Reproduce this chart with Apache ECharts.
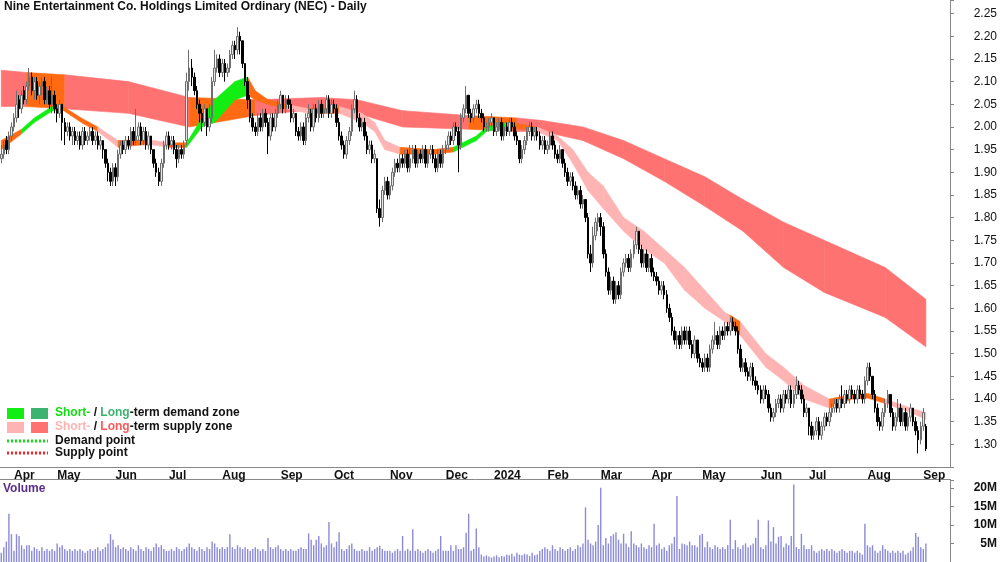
<!DOCTYPE html>
<html><head><meta charset="utf-8">
<script src="https://cdn.jsdelivr.net/npm/echarts@6/dist/echarts.min.js"></script>
<style>html,body{margin:0;padding:0;background:#fff}#c{width:1000px;height:562px}</style>
</head><body><div id="c"></div>
<script>
// daily candles [open, close, low, high]
const ohlc = [
[1.93,1.94,1.92,1.96],[1.94,1.96,1.93,1.97],[1.97,1.95,1.94,1.98],[1.95,1.98,1.94,1.99],[1.98,2.00,1.97,2.01],
[2.00,2.02,1.99,2.03],[2.02,2.05,2.01,2.08],[2.06,2.04,2.02,2.07],[2.04,2.07,2.03,2.08],[2.08,2.06,2.05,2.09],
[2.06,2.09,2.05,2.10],[2.09,2.11,2.08,2.13],[2.11,2.08,2.07,2.12],[2.08,2.10,2.06,2.11],[2.10,2.07,2.06,2.11],
[2.07,2.09,2.05,2.10],[2.09,2.10,2.07,2.11],[2.10,2.06,2.05,2.11],[2.06,2.08,2.05,2.09],[2.08,2.05,2.04,2.09],
[2.05,2.07,2.03,2.11],[2.07,2.04,2.03,2.08],[2.04,2.03,2.01,2.05],[2.03,2.05,2.02,2.06],[2.05,2.01,1.97,2.05],
[2.01,1.99,1.96,2.02],[1.99,2.00,1.98,2.01],[2.00,1.98,1.97,2.01],[1.98,1.99,1.96,2.00],[1.99,1.97,1.96,2.00],
[1.97,1.98,1.96,1.99],[1.98,1.96,1.95,1.99],[1.96,1.99,1.95,2.00],[1.99,1.97,1.96,2.00],[1.97,1.98,1.96,1.99],
[1.98,1.99,1.97,2.00],[1.99,1.97,1.96,2.00],[1.97,1.98,1.96,1.99],[1.98,1.96,1.95,1.99],[1.96,1.97,1.95,1.98],
[1.97,1.95,1.93,1.97],[1.95,1.92,1.91,1.95],[1.92,1.90,1.88,1.93],[1.90,1.88,1.87,1.91],[1.88,1.91,1.87,1.92],
[1.91,1.89,1.87,1.92],[1.89,1.94,1.88,1.95],[1.94,1.96,1.93,1.97],[1.96,1.95,1.94,1.97],[1.95,1.97,1.94,1.98],
[1.97,1.96,1.95,1.98],[1.96,1.99,1.95,2.00],[1.99,1.97,1.96,2.00],[1.97,1.98,1.96,2.04],[1.98,2.00,1.97,2.01],
[2.00,1.97,1.96,2.01],[1.97,1.99,1.96,2.00],[1.99,1.96,1.95,2.00],[1.96,1.98,1.95,1.99],[1.98,1.95,1.94,1.98],
[1.95,1.92,1.91,1.95],[1.92,1.90,1.89,1.93],[1.90,1.88,1.87,1.91],[1.88,1.92,1.87,1.93],[1.92,1.96,1.91,1.97],
[1.96,1.98,1.95,1.99],[1.98,1.96,1.95,1.99],[1.96,1.97,1.95,1.98],[1.97,1.95,1.94,1.98],[1.95,1.93,1.91,1.96],
[1.93,1.95,1.92,1.96],[1.95,1.94,1.93,1.96],[1.94,1.96,1.93,1.97],[1.97,2.10,1.96,2.12],[2.10,2.13,2.08,2.17],
[2.13,2.11,2.09,2.15],[2.11,2.08,2.07,2.12],[2.08,2.05,2.04,2.09],[2.05,2.03,2.01,2.06],[2.03,2.01,1.99,2.04],
[2.01,2.04,2.00,2.05],[2.04,2.00,1.98,2.04],[2.00,2.02,1.99,2.05],[2.02,2.10,2.01,2.11],[2.10,2.13,2.09,2.17],
[2.13,2.15,2.12,2.16],[2.15,2.12,2.11,2.16],[2.12,2.14,2.11,2.15],[2.14,2.12,2.10,2.15],[2.12,2.13,2.11,2.14],
[2.13,2.16,2.12,2.17],[2.16,2.18,2.15,2.19],[2.18,2.17,2.15,2.19],[2.17,2.20,2.16,2.22],[2.20,2.19,2.16,2.21],
[2.19,2.14,2.13,2.19],[2.14,2.10,2.09,2.14],[2.10,2.06,2.04,2.11],[2.06,2.02,2.01,2.07],[2.02,2.00,1.99,2.03],
[2.00,1.99,1.98,2.01],[1.99,2.02,1.98,2.03],[2.02,2.00,1.99,2.03],[2.00,2.03,1.99,2.04],[2.03,2.01,2.00,2.04],
[2.01,1.98,1.94,2.02],[1.98,2.02,1.97,2.03],[2.02,2.00,1.99,2.03],[2.00,2.03,1.99,2.04],[2.03,2.05,2.02,2.06],
[2.05,2.07,2.04,2.08],[2.07,2.04,2.03,2.07],[2.04,2.06,2.03,2.07],[2.06,2.05,2.04,2.07],[2.05,2.02,2.01,2.06],
[2.02,2.03,2.01,2.04],[2.03,1.99,1.98,2.03],[1.99,1.98,1.97,2.00],[1.98,2.00,1.97,2.01],[2.00,1.97,1.96,2.01],
[1.97,2.02,1.96,2.03],[2.02,2.03,2.01,2.05],[2.03,2.00,1.99,2.04],[2.00,2.04,1.99,2.05],[2.04,2.02,2.01,2.05],
[2.02,2.05,2.01,2.06],[2.05,2.03,2.02,2.06],[2.03,2.04,2.02,2.05],[2.04,2.06,2.03,2.07],[2.06,2.03,2.02,2.07],
[2.03,2.05,2.02,2.06],[2.05,2.04,2.03,2.06],[2.04,2.01,2.00,2.05],[2.01,1.98,1.97,2.02],[1.98,1.96,1.95,1.99],
[1.96,1.94,1.93,1.97],[1.94,1.97,1.93,1.98],[1.97,1.99,1.96,2.00],[1.99,2.04,1.98,2.05],[2.04,2.06,2.03,2.08],
[2.06,2.02,2.01,2.07],[2.02,2.00,1.99,2.03],[2.00,2.01,1.99,2.02],[2.01,1.98,1.97,2.02],[1.98,1.95,1.94,1.99],
[1.95,1.96,1.94,1.97],[1.96,1.93,1.92,1.97],[1.93,1.94,1.92,1.95],[1.93,1.82,1.81,1.93],[1.82,1.80,1.78,1.84],
[1.80,1.86,1.79,1.87],[1.86,1.88,1.85,1.89],[1.88,1.85,1.84,1.89],[1.85,1.87,1.84,1.88],[1.87,1.90,1.86,1.91],
[1.90,1.92,1.89,1.93],[1.92,1.91,1.90,1.93],[1.91,1.93,1.90,1.94],[1.93,1.92,1.91,1.94],[1.92,1.94,1.91,1.95],
[1.94,1.91,1.90,1.95],[1.91,1.93,1.90,1.96],[1.93,1.95,1.92,1.96],[1.95,1.92,1.91,1.96],[1.92,1.94,1.91,1.95],
[1.94,1.93,1.92,1.95],[1.93,1.95,1.92,1.96],[1.95,1.92,1.91,1.96],[1.92,1.94,1.91,1.95],[1.94,1.95,1.93,1.96],
[1.95,1.93,1.92,1.96],[1.93,1.91,1.90,1.94],[1.91,1.94,1.90,1.95],[1.94,1.92,1.91,1.95],[1.92,1.95,1.91,1.96],
[1.95,1.96,1.94,1.97],[1.96,1.98,1.95,1.99],[1.98,1.97,1.96,1.99],[1.97,2.00,1.96,2.01],[2.00,1.99,1.98,2.01],
[1.99,1.96,1.90,2.00],[1.96,2.02,1.95,2.03],[2.02,2.04,2.01,2.05],[2.04,2.07,2.03,2.09],[2.07,2.03,2.02,2.07],
[2.03,2.02,2.01,2.04],[2.02,2.04,2.01,2.05],[2.04,2.05,2.03,2.06],[2.05,2.03,2.02,2.06],[2.03,2.02,2.01,2.04],
[2.02,2.00,1.99,2.03],[2.00,2.00,1.99,2.01],[2.00,2.01,1.99,2.02],[2.01,2.02,2.00,2.03],[2.02,1.99,1.98,2.02],
[1.99,2.00,1.98,2.01],[2.00,2.01,1.99,2.02],[2.01,1.98,1.97,2.02],[1.98,2.00,1.97,2.01],[2.00,1.99,1.98,2.01],
[1.99,2.01,1.98,2.02],[2.01,2.00,1.99,2.02],[2.00,1.98,1.97,2.01],[1.98,1.97,1.96,1.99],[1.97,1.93,1.92,1.97],
[1.93,1.95,1.92,1.96],[1.95,1.97,1.94,1.98],[1.97,1.99,1.96,2.00],[1.99,2.00,1.98,2.01],[2.00,1.98,1.97,2.01],
[1.98,1.99,1.97,2.00],[1.99,1.98,1.97,2.00],[1.98,1.96,1.95,1.99],[1.96,1.97,1.95,1.98],[1.97,1.95,1.94,1.98],
[1.95,1.96,1.94,1.97],[1.96,1.98,1.95,1.99],[1.98,1.96,1.95,1.99],[1.96,1.94,1.93,1.97],[1.94,1.93,1.92,1.95],
[1.93,1.95,1.92,1.96],[1.95,1.92,1.91,1.95],[1.92,1.90,1.89,1.93],[1.90,1.88,1.87,1.91],[1.88,1.89,1.87,1.90],
[1.89,1.87,1.86,1.90],[1.87,1.85,1.84,1.88],[1.85,1.86,1.84,1.87],[1.86,1.83,1.82,1.87],[1.83,1.84,1.82,1.85],
[1.84,1.80,1.79,1.84],[1.80,1.72,1.71,1.81],[1.72,1.70,1.68,1.74],[1.70,1.76,1.69,1.78],[1.76,1.79,1.75,1.80],
[1.79,1.80,1.77,1.81],[1.80,1.78,1.76,1.81],[1.78,1.72,1.71,1.79],[1.72,1.68,1.67,1.73],[1.68,1.64,1.63,1.69],
[1.64,1.66,1.63,1.67],[1.66,1.62,1.61,1.67],[1.62,1.65,1.61,1.66],[1.65,1.63,1.62,1.66],[1.63,1.68,1.62,1.69],
[1.68,1.70,1.67,1.71],[1.70,1.71,1.69,1.72],[1.71,1.69,1.68,1.72],[1.69,1.72,1.68,1.73],[1.72,1.74,1.71,1.75],
[1.74,1.77,1.73,1.78],[1.77,1.73,1.72,1.77],[1.73,1.70,1.69,1.74],[1.70,1.72,1.69,1.73],[1.72,1.69,1.68,1.73],
[1.69,1.71,1.68,1.72],[1.71,1.68,1.67,1.72],[1.68,1.67,1.66,1.69],[1.67,1.66,1.65,1.68],[1.66,1.64,1.63,1.67],
[1.64,1.65,1.63,1.66],[1.65,1.63,1.62,1.66],[1.63,1.60,1.59,1.64],[1.60,1.58,1.57,1.61],[1.58,1.55,1.54,1.59],
[1.55,1.53,1.52,1.56],[1.53,1.54,1.51,1.55],[1.54,1.52,1.51,1.55],[1.52,1.55,1.51,1.56],[1.55,1.53,1.52,1.56],
[1.53,1.55,1.52,1.56],[1.55,1.52,1.51,1.56],[1.52,1.50,1.49,1.53],[1.50,1.53,1.49,1.54],[1.53,1.49,1.48,1.53],
[1.49,1.48,1.47,1.50],[1.48,1.47,1.46,1.49],[1.47,1.49,1.46,1.50],[1.49,1.47,1.46,1.50],[1.47,1.51,1.46,1.52],
[1.51,1.53,1.50,1.54],[1.53,1.54,1.52,1.57],[1.54,1.52,1.51,1.55],[1.52,1.55,1.51,1.56],[1.55,1.54,1.53,1.56],
[1.54,1.56,1.53,1.57],[1.56,1.55,1.54,1.57],[1.55,1.57,1.54,1.58],[1.57,1.56,1.55,1.58],[1.56,1.55,1.54,1.57],
[1.55,1.51,1.50,1.56],[1.51,1.47,1.46,1.52],[1.47,1.48,1.46,1.49],[1.48,1.46,1.45,1.49],[1.46,1.45,1.44,1.47],
[1.45,1.47,1.44,1.48],[1.47,1.44,1.43,1.48],[1.44,1.43,1.42,1.45],[1.43,1.42,1.41,1.44],[1.42,1.40,1.39,1.43],
[1.40,1.42,1.39,1.43],[1.42,1.41,1.40,1.43],[1.41,1.38,1.37,1.42],[1.38,1.36,1.35,1.39],[1.36,1.37,1.35,1.38],
[1.37,1.39,1.36,1.40],[1.39,1.40,1.38,1.41],[1.40,1.38,1.37,1.41],[1.38,1.41,1.37,1.42],[1.41,1.40,1.39,1.42],
[1.40,1.42,1.39,1.43],[1.42,1.39,1.38,1.43],[1.39,1.41,1.38,1.42],[1.41,1.43,1.40,1.45],[1.43,1.42,1.41,1.44],
[1.42,1.40,1.39,1.43],[1.40,1.37,1.36,1.41],[1.37,1.38,1.36,1.39],[1.38,1.34,1.32,1.38],[1.34,1.32,1.31,1.35],
[1.32,1.33,1.31,1.34],[1.33,1.35,1.32,1.36],[1.35,1.32,1.31,1.36],[1.32,1.34,1.31,1.35],[1.34,1.36,1.33,1.37],
[1.36,1.35,1.34,1.37],[1.35,1.37,1.34,1.38],[1.37,1.38,1.36,1.39],[1.38,1.39,1.37,1.40],[1.39,1.38,1.37,1.40],
[1.38,1.40,1.37,1.41],[1.40,1.39,1.38,1.43],[1.39,1.41,1.38,1.42],[1.41,1.40,1.39,1.42],[1.40,1.42,1.39,1.43],
[1.42,1.41,1.40,1.43],[1.41,1.40,1.39,1.42],[1.40,1.42,1.39,1.43],[1.42,1.41,1.40,1.43],[1.41,1.40,1.39,1.42],
[1.40,1.44,1.39,1.45],[1.44,1.47,1.43,1.48],[1.47,1.45,1.44,1.48],[1.45,1.41,1.40,1.45],[1.41,1.38,1.37,1.42],
[1.38,1.35,1.34,1.39],[1.35,1.34,1.33,1.36],[1.34,1.37,1.33,1.38],[1.37,1.39,1.36,1.40],[1.39,1.41,1.38,1.42],
[1.41,1.37,1.36,1.41],[1.37,1.34,1.33,1.38],[1.34,1.36,1.33,1.37],[1.36,1.38,1.35,1.40],[1.38,1.35,1.34,1.39],
[1.35,1.37,1.34,1.38],[1.37,1.34,1.33,1.38],[1.34,1.36,1.33,1.37],[1.36,1.38,1.35,1.39],[1.38,1.35,1.34,1.38],
[1.35,1.33,1.32,1.36],[1.33,1.31,1.28,1.34],[1.31,1.34,1.30,1.35],[1.34,1.37,1.33,1.38],[1.34,1.29,1.285,1.345]
];
// volume in millions
const volume = [
2.5,4,5.5,13,7.5,3,7.5,7,4.5,3.5,
4.5,4.5,3,4,3.5,3,4,3,3.5,3,3.5,3,
5,4,4.5,3.5,3,3.5,3,3.5,3,3.5,3,2.5,3,3.5,3,3.5,4,3,3.5,4,5,7.5,6,
4,4.5,3.5,4,3.5,3,4,3.5,3,4.5,3.5,3,4,3.5,3,4,5,4,4.5,3.5,3,
3,3.5,3,4,3.5,3,3.5,4,5,4,3.5,3,4,3.5,3,4,3.5,5.5,5,4,3.5,
4,3.5,4,7.5,4,3.5,4.5,4,3.5,4,3.5,3,3.5,4,3.5,3,3.5,3,6.5,4,3.5,4,4.5,
3.5,3,3.5,3,3.5,3,3,3.5,4,3.5,3.5,7.7,6,4.5,6,7,5,4,4.5,10.8,5,
4,5.5,8,3.5,3,3.5,4.5,5,3.5,3,3,3.5,3,3,4,3,3.5,4,4.4,3.5,3,3,
3,2.5,3,3.5,3,7,3,3.5,3,8.8,3,3.5,3,2.5,3,3.5,3,2.5,3,3.5,7,3,
3,3,4.5,3,4.5,3.5,3.5,4,7.9,13,3,3.5,9,4,2,1.5,1.8,1.5,1.2,
1.5,1.8,1.3,1.6,1.5,2,1.8,2.2,1.5,2.5,2,1.8,2.2,2,1.6,2.5,1.8,2,3,3.5,4,
3.5,3,4.5,3.5,3,4,3.5,3,3.5,4,3,3.5,4.5,4,5,14.7,6,5,4.5,5.5,10,
20,4.5,6.5,5,7,7.5,8,6,5,7.6,5,4,8.3,5,4.5,4,5,4,3.5,4.5,
4,10.3,4.5,5,3.5,4,3,4.5,5,6.8,17.8,3.5,5,4.8,4.5,5.5,4.5,4.5,4,7.2,
7.6,4,5.5,4,3.5,4.5,4,3.5,4,3.5,4.5,11.4,3.5,5.9,4,3.5,4.5,5,4,4.5,5,6.5,11.4,
4,3.5,4.5,11.2,5.5,9.4,5,6.8,7,4,5,4.5,7,20.9,4,3.5,7.6,4.5,3.5,
3.5,4.5,3,2.5,3,3.5,3,3.5,3,3.5,3,2.5,3,3.5,3,2.5,3,3,2.5,3,2.5,2,10.3,
4.5,4,4.5,3,2.5,3,4.5,3.5,3,2.5,3,2.5,3,2.5,3,2,2.5,3,4,7.8,6.8,4,
3.5,5
];
// long-term band knots (day index, lower, upper, colour key)
const longIdx = [0,10,25,50,74,100,126,140,158,184,203,213,229,245,261,277,292,308,324,348,364];
const longLo  = [2.045,2.045,2.04,2.03,2.0,2.025,2.04,2.03,2.0,1.995,1.99,1.99,1.97,1.93,1.88,1.825,1.77,1.69,1.635,1.58,1.515];
const longHi  = [2.125,2.12,2.115,2.10,2.065,2.06,2.065,2.06,2.036,2.025,2.02,2.014,2.0,1.97,1.93,1.89,1.84,1.79,1.75,1.69,1.62];
const longCol = ['R','O','R','R','O','R','R','R','R','O','R','R','R','R','R','R','R','R','R','R','R'];
// short-term band knots
const shortIdx = [0,8,13,20,24,32,38,46,58,66,73,79,84,92,97,100,105,112,121,133,142,147,151,157,170,178,187,191,200,211,219,225,231,237,245,253,261,269,277,285,287,291,301,308,316,326,335,341,348,358,364];
const shortLo  = [1.95,1.985,2.01,2.035,2.038,2.008,1.99,1.955,1.962,1.955,1.955,2.0,2.01,2.06,2.07,2.06,2.05,2.04,2.03,2.03,2.01,1.99,1.95,1.94,1.94,1.945,1.97,1.99,2.0,1.99,1.97,1.92,1.86,1.82,1.77,1.73,1.70,1.64,1.60,1.57,1.56,1.54,1.47,1.44,1.40,1.38,1.40,1.402,1.39,1.37,1.355];
const shortHi  = [1.97,1.995,2.02,2.045,2.046,2.018,2.0,1.97,1.972,1.965,1.965,2.02,2.06,2.10,2.11,2.08,2.06,2.05,2.04,2.045,2.03,2.01,1.97,1.955,1.95,1.955,1.98,2.0,2.01,2.0,1.98,1.95,1.90,1.87,1.80,1.77,1.73,1.69,1.64,1.59,1.585,1.57,1.50,1.47,1.43,1.40,1.41,1.412,1.40,1.38,1.37];
const shortCol = ['O','G','G','G','O','O','P','O','P','O','G','G','G','G','O','O','O','P','O','P','P','P','P','O','O','G','G','G','O','P','P','P','P','P','P','P','P','P','P','P','O','P','P','P','P','O','O','O','P','P','P'];
// axis labels
const monthStarts = [5,22,45,66,87,110,131,153,175,194,215,236,256,276,299,318,341,363];
const monthNames = ['Apr','May','Jun','Jul','Aug','Sep','Oct','Nov','Dec','2024','Feb','Mar','Apr','May','Jun','Jul','Aug','Sep'];

const PAD = 9;
const cats = []; for (let i = 0; i < ohlc.length + PAD; i++) cats.push(String(i));
const colorMap = {R:'#ff7272', O:'#ff6a13', P:'#ffb4b4', G:'#12ee12'};
function seg(idx, lo, hi, col){
  const d = [];
  for (let k = 0; k < idx.length - 1; k++) d.push({value:[idx[k],lo[k],hi[k],idx[k+1],lo[k+1],hi[k+1]], c: colorMap[col[k]]});
  return d;
}
function bandSeries(data, z){
  return {type:'custom', xAxisIndex:0, yAxisIndex:0, z:z, silent:true,
    encode:{x:[0,3], y:[1,2,4,5]},
    data: data.map(d=>d.value),
    renderItem:function(params, api){
      const c = data[params.dataIndex].c;
      const a = api.coord([api.value(0), api.value(1)]);
      const b = api.coord([api.value(3), api.value(4)]);
      const e = api.coord([api.value(3), api.value(5)]);
      const f = api.coord([api.value(0), api.value(2)]);
      return {type:'polygon', shape:{points:[a,b,e,f]}, style:{fill:c, stroke:c, lineWidth:0.6}};
    }};
}
const startSet = new Set(monthStarts);
const chart = echarts.init(document.getElementById('c'), null, {renderer:'canvas'});
const FONT = 'Liberation Sans, Arial, sans-serif';
chart.setOption({
  animation:false,
  backgroundColor:'#fff',
  grid:[{left:0, right:49, top:-6.8, height:473.8},{left:0, right:49, top:480, height:84}],
  xAxis:[
    {type:'category', data:cats, gridIndex:0, boundaryGap:true,
     axisLine:{lineStyle:{color:'#888'}},
     axisTick:{interval:(i)=>startSet.has(i), length:4, lineStyle:{color:'#666'}},
     axisLabel:{interval:(i)=>startSet.has(i), formatter:(v,i)=>monthNames[monthStarts.indexOf(i)] || '', align:'left', margin:3, color:'#111', fontWeight:'bold', fontSize:12, fontFamily:FONT},
     splitLine:{show:false}},
    {type:'category', data:cats, gridIndex:1, boundaryGap:true, axisLine:{show:false}, axisTick:{show:false}, axisLabel:{show:false}}
  ],
  yAxis:[
    {type:'value', gridIndex:0, position:'right', min:1.25, max:2.28, interval:0.05, scale:true,
     axisLine:{show:true, lineStyle:{color:'#888'}}, axisTick:{show:true, length:4, lineStyle:{color:'#888'}},
     splitLine:{show:false},
     axisLabel:{formatter:(v)=> (v < 1.27 || v > 2.26) ? '' : v.toFixed(2), align:'right', margin:47, color:'#111', fontSize:12, fontFamily:FONT}},
    {type:'value', gridIndex:1, position:'right', min:0, max:22.1, interval:5,
     axisLine:{show:true, lineStyle:{color:'#888'}}, axisTick:{show:true, length:4, lineStyle:{color:'#888'}},
     splitLine:{show:false},
     axisLabel:{formatter:(v)=> (v === 0 || v > 21) ? '' : v + 'M', align:'right', margin:47, color:'#111', fontWeight:'bold', fontSize:12, fontFamily:FONT}}
  ],
  series:[
    bandSeries(seg(longIdx,longLo,longHi,longCol), 1),
    bandSeries(seg(shortIdx,shortLo,shortHi,shortCol), 2),
    {type:'candlestick', xAxisIndex:0, yAxisIndex:0, z:5, data:ohlc, barWidth:2,
     itemStyle:{color:'#e4e4e4', color0:'#000', borderColor:'#6e6e6e', borderColor0:'#000', borderWidth:1}},
    {type:'bar', xAxisIndex:1, yAxisIndex:1, data:volume, barWidth:1.4, itemStyle:{color:'#8a8ad8'}}
  ],
  graphic:[
    {type:'text', left:4, top:1, style:{text:'Nine Entertainment Co. Holdings Limited Ordinary (NEC) - Daily', font:'bold 12px '+FONT, fill:'#111'}},
    {type:'line', shape:{x1:0, y1:479.5, x2:951, y2:479.5}, style:{stroke:'#888', lineWidth:1}},
    {type:'text', left:3, top:483, style:{text:'Volume', font:'bold 12px '+FONT, fill:'#5a2d8c'}},
    {type:'rect', shape:{x:7, y:408, width:17, height:11}, style:{fill:'#12ee12'}},
    {type:'rect', shape:{x:31, y:408, width:17, height:11}, style:{fill:'#3cb371'}},
    {type:'rect', shape:{x:7, y:422, width:17, height:11}, style:{fill:'#ffb4b4'}},
    {type:'rect', shape:{x:31, y:422, width:17, height:11}, style:{fill:'#ff7272'}},
    {type:'line', shape:{x1:7, y1:441, x2:48, y2:441}, style:{stroke:'#12dd12', lineWidth:3, lineDash:[2,2]}},
    {type:'line', shape:{x1:7, y1:453, x2:48, y2:453}, style:{stroke:'#ff2020', lineWidth:3, lineDash:[2,2]}},
    {type:'text', left:55, top:407, style:{rich:{g:{fill:'#12dd12', font:'bold 12px '+FONT}, d:{fill:'#3cb371', font:'bold 12px '+FONT}, k:{fill:'#111', font:'bold 12px '+FONT}}, text:'{g|Short-}{k| / }{d|Long}{k|-term demand zone}'}},
    {type:'text', left:55, top:421, style:{rich:{p:{fill:'#ffb4b4', font:'bold 12px '+FONT}, r:{fill:'#ff5a5a', font:'bold 12px '+FONT}, k:{fill:'#111', font:'bold 12px '+FONT}}, text:'{p|Short-}{k| / }{r|Long}{k|-term supply zone}'}},
    {type:'text', left:55, top:435, style:{text:'Demand point', font:'bold 12px '+FONT, fill:'#111'}},
    {type:'text', left:55, top:447, style:{text:'Supply point', font:'bold 12px '+FONT, fill:'#111'}}
  ]
});
</script></body></html>
